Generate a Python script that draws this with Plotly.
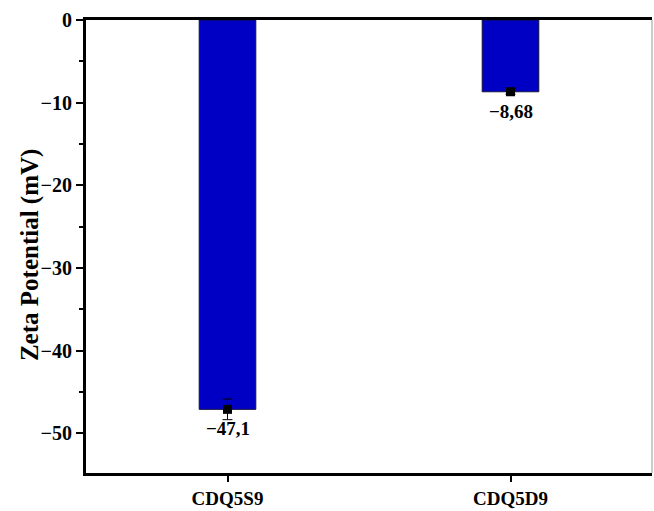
import plotly.graph_objects as go

# Zeta potential of the two samples
samples = ["CDQ5S9", "CDQ5D9"]
zeta_mv = [-47.1, -8.68]
zeta_err = [1.25, 0.3]
value_labels = ["−47,1", "−8,68"]
y_title = "Zeta Potential (mV)"

FONT = "Liberation Serif"

fig = go.Figure()

fig.add_trace(go.Bar(
    x=samples, y=zeta_mv, width=0.2,
    marker=dict(color="#0000C4", line=dict(color="#101040", width=1)),
    showlegend=False,
))

fig.add_trace(go.Scatter(
    x=samples, y=zeta_mv, mode="markers",
    marker=dict(symbol="square", size=9, color="black"),
    error_y=dict(type="data", array=zeta_err, color="black", thickness=1, width=5),
    showlegend=False,
))

for s, v, lab in zip(samples, zeta_mv, value_labels):
    fig.add_annotation(
        x=s, y=v, text=lab, showarrow=False,
        yanchor="top", yshift=-7,
        font=dict(family=FONT, size=19, color="black", weight="bold"),
    )

# y-axis title, placed slightly below the axis midpoint
fig.add_annotation(
    xref="paper", yref="paper", x=-0.1, y=0.482, text=y_title,
    textangle=-90, showarrow=False, xanchor="center", yanchor="middle",
    font=dict(family=FONT, size=25, color="black", weight="bold"),
)

# thin frame on the right side
fig.add_shape(type="line", xref="paper", yref="paper", x0=1, x1=1, y0=0, y1=1,
              line=dict(color="#999999", width=1))

fig.update_xaxes(
    range=[-0.5, 1.5],
    showline=True, linecolor="black", linewidth=3, mirror=True,
    ticks="outside", ticklen=6, tickwidth=2, tickcolor="black",
    tickfont=dict(family=FONT, size=19, color="black", weight="bold"),
    showgrid=False,
)

fig.update_yaxes(
    range=[-54.8, 0],
    tickvals=[0, -10, -20, -30, -40, -50],
    showline=True, linecolor="black", linewidth=3,
    ticks="outside", ticklen=7, tickwidth=2, tickcolor="black",
    minor=dict(tickvals=[-5, -15, -25, -35, -45], ticks="outside", ticklen=4,
               tickwidth=2, tickcolor="black"),
    tickfont=dict(family=FONT, size=20, color="black", weight="bold"),
    showgrid=False, zeroline=False,
)

fig.update_layout(
    width=654, height=511,
    margin=dict(l=86, r=2, t=20, b=33),
    plot_bgcolor="white", paper_bgcolor="white",
)

fig.write_html("out.html")
